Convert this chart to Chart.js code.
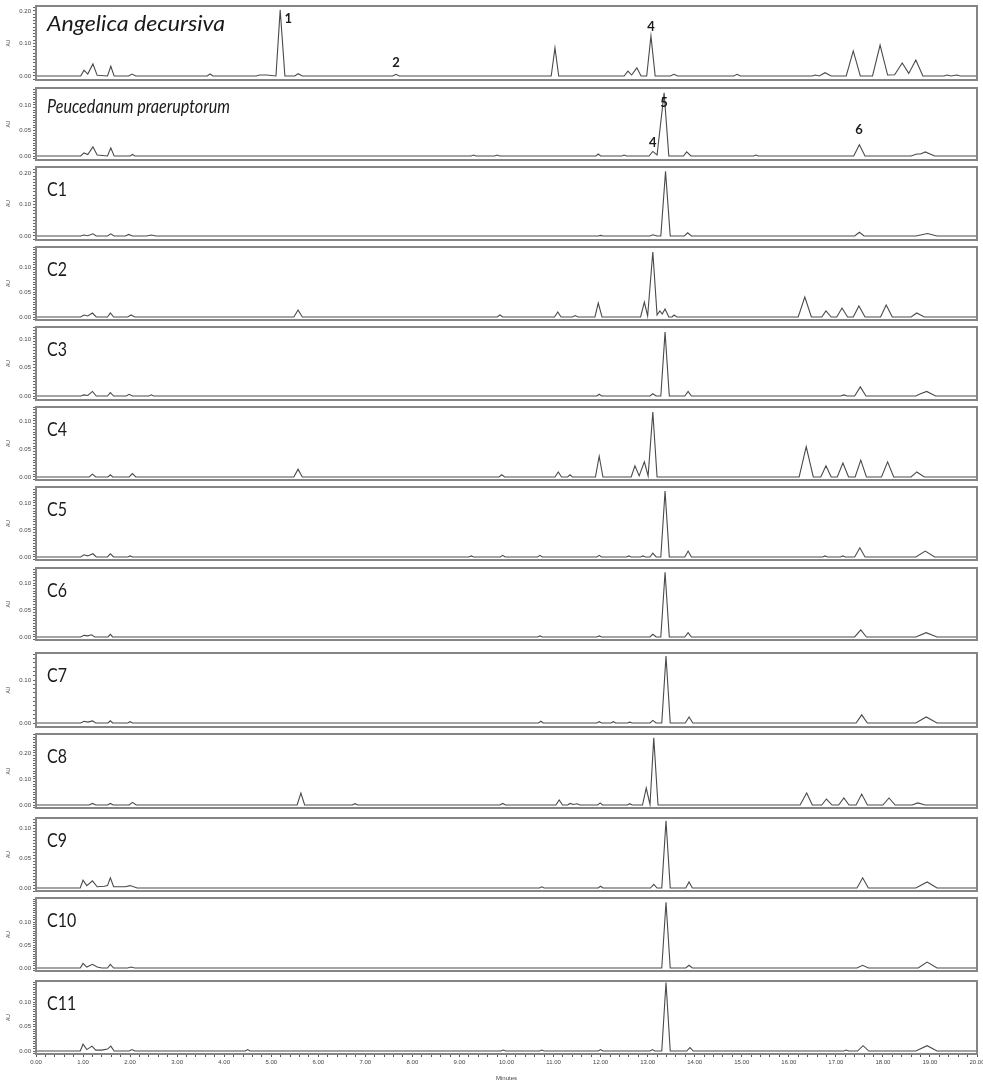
<!DOCTYPE html>
<html><head><meta charset="utf-8">
<script src="https://cdn.jsdelivr.net/npm/chart.js@4.4.0/dist/chart.umd.min.js"></script>
<style>
html,body{margin:0;padding:0;background:#fff;width:983px;height:1082px;overflow:hidden;position:relative;}
canvas{position:absolute;left:0;}
</style></head><body>
<script>
// ---------- DATA (time in minutes, absorbance in AU) ----------
const panelNames = ['Angelica decursiva','Peucedanum praeruptorum','C1','C2','C3','C4','C5','C6','C7','C8','C9','C10','C11'];

const traceAD = [[0,0],[0.95,0],[1.02,0.018],[1.1,0.006],[1.21,0.037],[1.3,0.002],[1.52,0],[1.59,0.03],[1.66,0],[1.97,0],[2.04,0.006],[2.12,0],[3.64,0],[3.7,0.006],[3.76,0],[4.68,0],[4.75,0.003],[4.9,0.003],[5.1,0],[5.19,0.203],[5.29,0],[5.5,0],[5.57,0.007],[5.66,0],[7.58,0],[7.65,0.005],[7.72,0],[10.95,0],[11.03,0.086],[11.11,0],[12.5,0],[12.58,0.015],[12.66,0.003],[12.77,0.025],[12.86,0],[12.98,0],[13.07,0.123],[13.16,0],[13.48,0],[13.56,0.005],[13.64,0],[14.83,0],[14.9,0.005],[14.97,0],[16.5,0],[16.56,0.003],[16.65,0],[16.77,0.01],[16.9,0],[17.22,0],[17.37,0.077],[17.52,0],[17.78,0],[17.94,0.095],[18.1,0.003],[18.25,0.004],[18.41,0.04],[18.55,0.008],[18.7,0.049],[18.85,0],[19.3,0],[19.36,0.003],[19.45,0],[19.57,0.003],[19.65,0],[20,0]];
const tracePP = [[0,0],[0.95,0],[1.02,0.006],[1.1,0.003],[1.21,0.018],[1.3,0.002],[1.52,0],[1.59,0.016],[1.66,0],[2.0,0],[2.05,0.003],[2.1,0],[9.25,0],[9.3,0.002],[9.35,0],[9.75,0],[9.8,0.002],[9.85,0],[11.9,0],[11.95,0.004],[12.0,0],[12.45,0],[12.5,0.002],[12.55,0],[13.03,0],[13.11,0.009],[13.2,0.002],[13.35,0.124],[13.45,0],[13.76,0],[13.83,0.008],[13.92,0],[15.25,0],[15.3,0.002],[15.35,0],[17.38,0],[17.5,0.022],[17.62,0],[18.6,0],[18.72,0.004],[18.8,0.004],[18.9,0.008],[19.1,0],[20,0]];
const traceC1 = [[0,0],[0.95,0],[1.02,0.003],[1.1,0.001],[1.21,0.007],[1.28,0],[1.52,0],[1.59,0.007],[1.66,0],[1.9,0],[1.97,0.005],[2.05,0],[2.35,0],[2.45,0.003],[2.55,0],[11.95,0],[12.0,0.002],[12.05,0],[13.05,0],[13.11,0.004],[13.2,0],[13.28,0],[13.38,0.205],[13.48,0],[13.78,0],[13.85,0.01],[13.93,0],[17.4,0],[17.5,0.012],[17.6,0],[18.7,0],[18.95,0.008],[19.15,0],[20,0]];
const traceC2 = [[0,0],[0.95,0],[1.02,0.004],[1.1,0.002],[1.2,0.008],[1.28,0],[1.52,0],[1.58,0.008],[1.65,0],[1.95,0],[2.02,0.004],[2.1,0],[5.48,0],[5.57,0.014],[5.66,0],[9.8,0],[9.86,0.004],[9.92,0],[11.02,0],[11.09,0.01],[11.16,0],[11.4,0],[11.46,0.003],[11.52,0],[11.88,0],[11.95,0.028],[12.03,0],[12.85,0],[12.93,0.03],[13.0,0.002],[13.11,0.13],[13.2,0.004],[13.26,0.012],[13.31,0.006],[13.37,0.016],[13.45,0],[13.52,0],[13.56,0.004],[13.62,0],[16.2,0],[16.34,0.04],[16.48,0],[16.7,0],[16.79,0.012],[16.9,0],[17.02,0],[17.13,0.018],[17.25,0],[17.37,0],[17.49,0.022],[17.62,0],[17.95,0],[18.07,0.024],[18.2,0],[18.6,0],[18.72,0.008],[18.88,0],[20,0]];
const traceC3 = [[0,0],[0.95,0],[1.02,0.002],[1.1,0.001],[1.2,0.008],[1.28,0],[1.52,0],[1.58,0.006],[1.65,0],[1.92,0],[1.98,0.003],[2.05,0],[2.4,0],[2.45,0.002],[2.5,0],[11.92,0],[11.97,0.003],[12.02,0],[13.05,0],[13.11,0.004],[13.18,0],[13.28,0],[13.37,0.112],[13.46,0],[13.79,0],[13.86,0.008],[13.93,0],[17.1,0],[17.17,0.002],[17.24,0],[17.4,0],[17.52,0.016],[17.64,0],[18.7,0],[18.8,0.004],[18.93,0.008],[19.12,0],[20,0]];
const traceC4 = [[0,0],[1.13,0],[1.2,0.005],[1.27,0],[1.53,0],[1.58,0.004],[1.63,0],[1.98,0],[2.05,0.006],[2.12,0],[5.48,0],[5.57,0.014],[5.66,0],[9.84,0],[9.9,0.004],[9.96,0],[11.03,0],[11.1,0.009],[11.17,0],[11.3,0],[11.35,0.004],[11.4,0],[11.89,0],[11.97,0.037],[12.05,0],[12.65,0],[12.73,0.02],[12.82,0.002],[12.93,0.027],[13.01,0.002],[13.11,0.116],[13.2,0],[16.22,0],[16.37,0.054],[16.52,0],[16.68,0],[16.79,0.02],[16.9,0],[17.03,0],[17.15,0.025],[17.27,0],[17.41,0],[17.53,0.03],[17.65,0],[17.97,0],[18.1,0.027],[18.23,0],[18.6,0],[18.72,0.009],[18.88,0],[20,0]];
const traceC5 = [[0,0],[0.95,0],[1.02,0.004],[1.1,0.002],[1.21,0.006],[1.28,0],[1.52,0],[1.58,0.006],[1.65,0],[1.95,0],[2.0,0.002],[2.05,0],[9.2,0],[9.25,0.002],[9.3,0],[9.87,0],[9.92,0.003],[9.97,0],[10.66,0],[10.71,0.003],[10.76,0],[11.92,0],[11.97,0.003],[12.02,0],[12.55,0],[12.6,0.002],[12.65,0],[12.85,0],[12.9,0.002],[12.95,0],[13.05,0],[13.11,0.007],[13.18,0],[13.28,0],[13.37,0.122],[13.46,0],[13.79,0],[13.86,0.011],[13.93,0],[16.72,0],[16.77,0.002],[16.82,0],[17.1,0],[17.15,0.002],[17.2,0],[17.4,0],[17.51,0.017],[17.62,0],[18.7,0],[18.9,0.011],[19.1,0],[20,0]];
const traceC6 = [[0,0],[0.95,0],[1.02,0.003],[1.1,0.002],[1.18,0.004],[1.25,0],[1.53,0],[1.58,0.005],[1.63,0],[10.66,0],[10.71,0.002],[10.76,0],[11.92,0],[11.97,0.002],[12.02,0],[13.05,0],[13.11,0.005],[13.18,0],[13.28,0],[13.37,0.12],[13.46,0],[13.79,0],[13.86,0.008],[13.93,0],[17.4,0],[17.53,0.013],[17.65,0],[18.7,0],[18.92,0.008],[19.15,0],[20,0]];
const traceC7 = [[0,0],[0.95,0],[1.02,0.004],[1.1,0.002],[1.2,0.005],[1.27,0],[1.53,0],[1.58,0.005],[1.63,0],[1.95,0],[2.0,0.003],[2.05,0],[10.68,0],[10.73,0.004],[10.78,0],[11.92,0],[11.97,0.003],[12.02,0],[12.22,0],[12.27,0.003],[12.32,0],[12.57,0],[12.62,0.002],[12.67,0],[13.05,0],[13.11,0.006],[13.18,0],[13.3,0],[13.39,0.156],[13.48,0],[13.8,0],[13.88,0.014],[13.96,0],[17.43,0],[17.55,0.019],[17.67,0],[18.7,0],[18.92,0.014],[19.15,0],[20,0]];
const traceC8 = [[0,0],[1.13,0],[1.2,0.006],[1.27,0],[1.52,0],[1.58,0.006],[1.64,0],[1.98,0],[2.05,0.01],[2.13,0],[5.55,0],[5.63,0.046],[5.71,0],[6.72,0],[6.78,0.005],[6.84,0],[9.86,0],[9.92,0.006],[9.98,0],[11.05,0],[11.12,0.019],[11.19,0],[11.3,0],[11.35,0.006],[11.42,0.002],[11.5,0.005],[11.56,0],[11.94,0],[11.99,0.008],[12.04,0],[12.57,0],[12.62,0.005],[12.67,0],[12.89,0],[12.97,0.065],[13.05,0.002],[13.13,0.258],[13.22,0],[16.24,0],[16.38,0.046],[16.5,0],[16.7,0],[16.8,0.023],[16.92,0],[17.06,0],[17.17,0.027],[17.28,0],[17.43,0],[17.55,0.042],[17.67,0],[18.0,0],[18.13,0.027],[18.26,0],[18.62,0],[18.74,0.008],[18.9,0],[20,0]];
const traceC9 = [[0,0],[0.94,0],[1.0,0.013],[1.08,0.004],[1.2,0.012],[1.3,0.002],[1.45,0.003],[1.52,0.004],[1.58,0.017],[1.65,0.002],[1.9,0.002],[2.0,0.004],[2.15,0],[10.7,0],[10.75,0.002],[10.8,0],[11.95,0],[12.0,0.003],[12.05,0],[13.06,0],[13.13,0.006],[13.2,0],[13.3,0],[13.39,0.112],[13.48,0],[13.81,0],[13.88,0.01],[13.95,0],[17.45,0],[17.57,0.017],[17.69,0],[18.7,0],[18.94,0.01],[19.15,0],[20,0]];
const traceC10 = [[0,0],[0.94,0],[1.0,0.01],[1.08,0.002],[1.2,0.008],[1.3,0.002],[1.4,0],[1.52,0],[1.58,0.008],[1.65,0],[1.95,0],[2.02,0.002],[2.1,0],[13.3,0],[13.39,0.143],[13.48,0],[13.81,0],[13.88,0.006],[13.95,0],[17.45,0],[17.57,0.006],[17.69,0],[18.75,0],[18.94,0.013],[19.15,0],[20,0]];
const traceC11 = [[0,0],[0.94,0],[1.0,0.014],[1.08,0.003],[1.19,0.01],[1.27,0.002],[1.4,0.002],[1.52,0.004],[1.59,0.01],[1.66,0],[1.98,0],[2.04,0.003],[2.1,0],[4.45,0],[4.5,0.003],[4.55,0],[9.88,0],[9.93,0.002],[9.98,0],[10.7,0],[10.75,0.002],[10.8,0],[11.95,0],[12.0,0.003],[12.05,0],[13.05,0],[13.1,0.003],[13.15,0],[13.3,0],[13.39,0.14],[13.48,0],[13.83,0],[13.9,0.007],[13.97,0],[17.17,0],[17.22,0.002],[17.27,0],[17.46,0],[17.58,0.011],[17.7,0],[18.7,0],[18.94,0.011],[19.15,0],[20,0]];

const traces = [traceAD,tracePP,traceC1,traceC2,traceC3,traceC4,traceC5,traceC6,traceC7,traceC8,traceC9,traceC10,traceC11];

// y-axis ranges and labelled ticks (AU)
const yMin = [-0.0123,-0.0078,-0.0127,-0.006,-0.007,-0.0054,-0.0056,-0.0056,-0.0093,-0.0115,-0.005,-0.0065,-0.006];
const yMax = [0.215,0.1333,0.219,0.14,0.121,0.125,0.1296,0.1278,0.1628,0.273,0.1167,0.1522,0.143];
const yTickLabels = [[0,0.1,0.2],[0,0.05,0.1],[0,0.1,0.2],[0,0.05,0.1],[0,0.05,0.1],[0,0.05,0.1],[0,0.05,0.1],[0,0.05,0.1],[0,0.1],[0,0.1,0.2],[0,0.05,0.1],[0,0.05,0.1],[0,0.05,0.1]];
const yMinorStep = [0.01,0.005,0.01,0.005,0.005,0.005,0.005,0.005,0.01,0.01,0.005,0.005,0.005];

// x-axis (minutes)
const timeLabels = [0,1,2,3,4,5,6,7,8,9,10,11,12,13,14,15,16,17,18,19,20];

// peak numbers: [panel, text, time, AU]
const peakLabels = [[0,'1',5.36,0.175],[0,'2',7.65,0.04],[0,'4',13.07,0.151],[1,'5',13.35,0.104],[1,'4',13.11,0.025],[1,'6',17.49,0.051]];

// ---------- LAYOUT ----------
const boxTop =    [6, 88,167,247,327,407,487,568,653,734,818,898,981];
const boxBottom = [80,160,240,320,400,480,560,640,727,808,891,971,1054];
// [font, target width in px (0 = use scale), horizontal scale, baseline offset]
const titleStyle = [['italic 21px Lato',178,0,25],['italic 19px Lato',183,0,25]];
const cLabelStyle = ['19px Lato',0.84,29];

const framePlugin = {
  id:'frame',
  afterDatasetsDraw(chart){
    const {ctx, chartArea:a} = chart;
    const i = chart.options.plugins.frame.index;
    ctx.save();
    ctx.strokeStyle = '#858585';
    ctx.lineWidth = 2;
    ctx.strokeRect(a.left, a.top, a.right-a.left, a.bottom-a.top);
    ctx.fillStyle = '#1a1a1a';
    ctx.textBaseline = 'alphabetic';
    ctx.textAlign = 'left';
    let font, sx, dy;
    if (i < 2) {
      font = titleStyle[i][0]; ctx.font = font;
      sx = titleStyle[i][1] / ctx.measureText(panelNames[i]).width; dy = titleStyle[i][3];
    } else {
      font = cLabelStyle[0]; ctx.font = font; sx = cLabelStyle[1]; dy = cLabelStyle[2];
    }
    ctx.save();
    ctx.translate(a.left+11, a.top+dy);
    ctx.scale(sx, 1);
    ctx.fillText(panelNames[i], 0, 0);
    ctx.restore();
    ctx.font = 'bold 13px Lato';
    ctx.textAlign = 'center';
    ctx.textBaseline = 'middle';
    const xs = chart.scales.x, ys = chart.scales.y;
    peakLabels.filter(p=>p[0]===i).forEach(p=>{
      ctx.fillText(p[1], xs.getPixelForValue(p[2]), ys.getPixelForValue(p[3]));
    });
    ctx.restore();
  }
};

function makePanel(i){
  const last = i === traces.length-1;
  const padT = 6, padB = 6, axisH = 28;
  const h = boxBottom[i]-boxTop[i] + padT + (last ? axisH : padB);
  const c = document.createElement('canvas');
  c.width = 983; c.height = h;
  c.style.top = (boxTop[i]-padT)+'px';
  c.style.width = '983px'; c.style.height = h+'px';
  document.body.appendChild(c);
  const majors = yTickLabels[i];
  const step = yMinorStep[i];
  new Chart(c, {
    type:'line',
    data:{datasets:[{
      data: traces[i].map(([x,y])=>({x,y})),
      borderColor:'#4a4a4a', borderWidth:1.1, pointRadius:0, tension:0, fill:false
    }]},
    options:{
      responsive:false, animation:false, events:[], devicePixelRatio:1,
      layout:{padding:{left:0,right:6,top:padT,bottom:last?0:padB}},
      plugins:{legend:{display:false}, tooltip:{enabled:false}, frame:{index:i}},
      scales:{
        x:{
          type:'linear', min:0, max:20, display:last,
          border:{display:false},
          grid:{drawOnChartArea:false, tickLength:3, color:'#555', lineWidth:1},
          afterBuildTicks:s=>{ const t=[]; for(let k=0;k<=100;k++) t.push({value:k/5}); s.ticks=t; },
          ticks:{autoSkip:false, maxRotation:0, padding:2, color:'#444',
            font:{family:'Liberation Sans', size:6},
            callback:v=>{ const r=Math.round(v); return (Math.abs(v-r)<1e-6 && timeLabels.includes(r)) ? r.toFixed(2) : ''; }},
          title:{display:true, text:'Minutes', color:'#444', font:{family:'Liberation Sans', size:6}, padding:{top:1,bottom:0}},
          afterFit:s=>{ if (last) { s.height=axisH; s.paddingLeft=0; s.paddingRight=0; } }
        },
        y:{
          type:'linear', min:yMin[i], max:yMax[i],
          border:{display:false},
          grid:{drawOnChartArea:false, tickLength:3, color:'#666', lineWidth:1},
          afterBuildTicks:s=>{
            const t=[]; const k0=Math.ceil(yMin[i]/step-1e-9), k1=Math.floor(yMax[i]/step+1e-9);
            for(let k=k0;k<=k1;k++) t.push({value:+(k*step).toFixed(4)});
            s.ticks=t;
          },
          ticks:{autoSkip:false, padding:2, color:'#444',
            font:{family:'Liberation Sans', size:6},
            callback:v=> majors.some(m=>Math.abs(m-v)<1e-6) ? v.toFixed(2) : ''},
          title:{display:true, text:'AU', color:'#444', font:{family:'Liberation Sans', size:5}, padding:{top:6,bottom:0}},
          afterFit:s=>{ s.width=36; s.paddingTop=0; s.paddingBottom=0; }
        }
      }
    },
    plugins:[framePlugin]
  });
}
for (let i=0;i<traces.length;i++) makePanel(i);
</script>
</body></html>
